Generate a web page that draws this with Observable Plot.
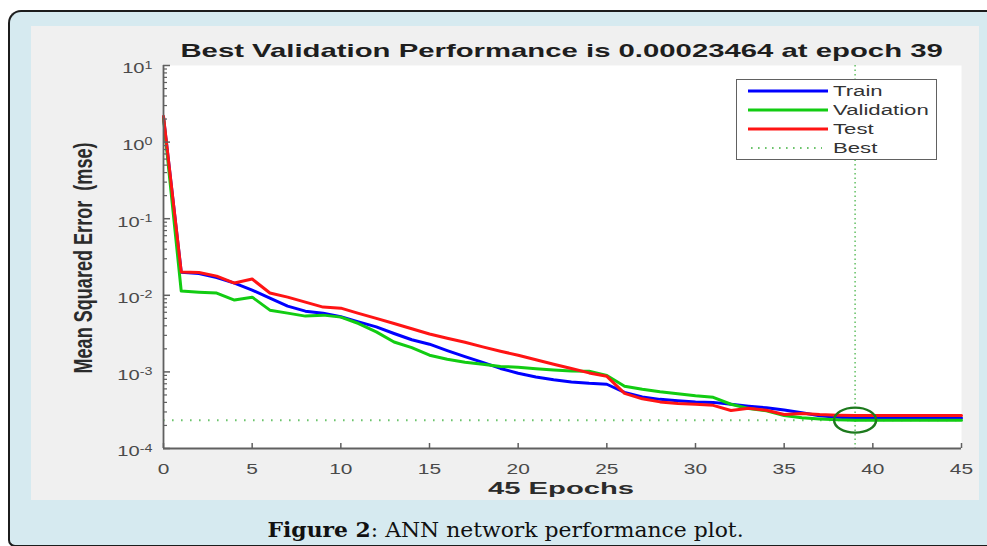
<!DOCTYPE html>
<html>
<head>
<meta charset="utf-8">
<script src="https://cdn.jsdelivr.net/npm/d3@7"></script>
<script src="https://cdn.jsdelivr.net/npm/@observablehq/plot@0.6"></script>
<style>
  html, body { margin: 0; padding: 0; background: #fff; }
  #page { position: relative; width: 987px; height: 546px; overflow: hidden; }
  #outer { position: absolute; left: 8px; top: 10px; width: 1000px; height: 537px; box-sizing: border-box;
           border: 2px solid #1c1c1c; border-right: none; border-radius: 13px 0 0 7px; background: #d6eaf0; }
  #panel { position: absolute; left: 31px; top: 26px; width: 948px; height: 474px; background: #f0f0f0; }
  #panel svg { position: absolute; left: 0; top: 0; }
  .lbl { position: absolute; white-space: nowrap; line-height: 1; transform-origin: 50% 50%; }
</style>
</head>
<body>
<div id="page">
  <div id="outer"></div>
  <div id="panel"></div>
</div>
<script>
// ---------------- data ----------------
const epochs = [0,1,2,3,4,5,6,7,8,9,10,11,12,13,14,15,16,17,18,19,20,21,22,23,24,25,26,27,28,29,30,31,32,33,34,35,36,37,38,39,40,41,42,43,44,45];
const train = [2.12, 0.0200, 0.0192, 0.0171, 0.0144, 0.0117, 0.0092, 0.00722, 0.00621, 0.00585, 0.00524, 0.0045, 0.00387, 0.00317, 0.00263, 0.0023, 0.0019, 0.00158, 0.00133, 0.00111, 0.00096, 0.00086, 0.00079, 0.00074, 0.00071, 0.00069, 0.000541, 0.000472, 0.000438, 0.000421, 0.000404, 0.0004, 0.000378, 0.000357, 0.00034, 0.000318, 0.000292, 0.000268, 0.000256, 0.00025, 0.00025, 0.00025, 0.00025, 0.00025, 0.00025, 0.00025];
const validation = [2.05, 0.01135, 0.0110, 0.0107, 0.00866, 0.00946, 0.0064, 0.00585, 0.00535, 0.00551, 0.00519, 0.00428, 0.00333, 0.00246, 0.00207, 0.00165, 0.00146, 0.00134, 0.00126, 0.00118, 0.00115, 0.0011, 0.00106, 0.00103, 0.00102, 0.0009, 0.000648, 0.000592, 0.000549, 0.000517, 0.000487, 0.000466, 0.000378, 0.000332, 0.00031, 0.00027, 0.000252, 0.000243, 0.000237, 0.00023464, 0.000234, 0.000234, 0.000234, 0.000233, 0.000233, 0.000233];
const test = [2.17, 0.0202, 0.0199, 0.0178, 0.01445, 0.0163, 0.0107, 0.00946, 0.00814, 0.00701, 0.0068, 0.0058, 0.00499, 0.00429, 0.00366, 0.00313, 0.00275, 0.00244, 0.00212, 0.00186, 0.00165, 0.00144, 0.00126, 0.00111, 0.00097, 0.000875, 0.000525, 0.000445, 0.000406, 0.000388, 0.000377, 0.000366, 0.000314, 0.000335, 0.000315, 0.000278, 0.000287, 0.000277, 0.000272, 0.00027, 0.00027, 0.00027, 0.00027, 0.00027, 0.00027, 0.00027];
const bestEpoch = 39;
const bestValue = 0.00023464;
const seriesNames = ["Train", "Validation", "Test", "Best"];
const xTicks = [0, 5, 10, 15, 20, 25, 30, 35, 40, 45];
const yTicks = [1e-4, 1e-3, 1e-2, 1e-1, 1, 10];
const yTickLabels = ["10^-4", "10^-3", "10^-2", "10^-1", "10^0", "10^1"];
const titleText = `Best Validation Performance is ${bestValue} at epoch ${bestEpoch}`;
const xLabelText = `${epochs.length - 1} Epochs`;
const yLabelText = "Mean Squared Error\u00a0 (mse)";
const captionHTML = "<b>Figure 2</b>: ANN network performance plot.";

// ---------------- styles ----------------
const COLORS = {Train: "#0000ff", Validation: "#12cc12", Test: "#ff1414", Best: "#6cc46c"};
const AX = "#606060", TXT = "#4a4a4a";
const FONT = "'Liberation Sans', Arial, Helvetica, sans-serif";

const rowsOf = (vals) => epochs.map((e, i) => ({epoch: e, mse: vals[i]}));
const yMinor = yTicks.slice(0, -1).flatMap(d => [2,3,4,5,6,7,8,9].map(m => d * m));

const ellipse = {
  draw(ctx, size) {
    const r = Math.sqrt(size / Math.PI), rx = r * 1.68, ry = r, k = 0.5523;
    ctx.moveTo(rx, 0);
    ctx.bezierCurveTo(rx, ry * k, rx * k, ry, 0, ry);
    ctx.bezierCurveTo(-rx * k, ry, -rx, ry * k, -rx, 0);
    ctx.bezierCurveTo(-rx, -ry * k, -rx * k, -ry, 0, -ry);
    ctx.bezierCurveTo(rx * k, -ry, rx, -ry * k, rx, 0);
    ctx.closePath();
  }
};

const chart = Plot.plot({
  width: 948, height: 474,
  marginLeft: 132, marginRight: 18, marginTop: 39, marginBottom: 52,
  style: {background: "transparent", fontFamily: FONT, overflow: "visible"},
  x: {domain: [0, 45]},
  y: {type: "log", domain: [1e-4, 10]},
  marks: [
    Plot.frame({fill: "#ffffff", stroke: "none"}),
    Plot.ruleY([bestValue], {stroke: COLORS.Best, strokeWidth: 2, strokeDasharray: "1.6,7.4"}),
    Plot.ruleX([bestEpoch], {stroke: COLORS.Best, strokeWidth: 1.6, strokeDasharray: "1.5,3"}),
    Plot.line(rowsOf(train), {x: "epoch", y: "mse", stroke: COLORS.Train, strokeWidth: 3}),
    Plot.line(rowsOf(validation), {x: "epoch", y: "mse", stroke: COLORS.Validation, strokeWidth: 3}),
    Plot.line(rowsOf(test), {x: "epoch", y: "mse", stroke: COLORS.Test, strokeWidth: 3}),
    Plot.dot([{epoch: bestEpoch, mse: bestValue}], {x: "epoch", y: "mse", r: 12.5, symbol: ellipse, stroke: "#1d7a1d", strokeWidth: 2.4, fill: "none"}),
    Plot.ruleX([0], {stroke: AX, strokeWidth: 1.8}),
    Plot.ruleY([1e-4], {stroke: AX, strokeWidth: 1.8}),
    Plot.axisX(xTicks, {tickSize: 5, dy: -5, tickPadding: 14, fontSize: 15.5, stroke: AX, fill: TXT, strokeWidth: 1.5, label: null}),
    Plot.axisY(yMinor, {tickSize: 4, dx: 4, tickFormat: () => "", stroke: AX, strokeWidth: 1.2, label: null}),
    Plot.axisY(yTicks, {tickSize: 7, dx: 7, tickPadding: 11, tickFormat: d => yTickLabels[yTicks.indexOf(d)], fontSize: 15.5, stroke: AX, fill: TXT, strokeWidth: 1.5, label: null})
  ]
});
document.getElementById("panel").append(chart);

// stretch tick labels horizontally (the reference is a horizontally stretched picture)
const SVGNS = "http://www.w3.org/2000/svg";
chart.querySelectorAll("text").forEach(t => {
  const s = t.textContent;
  if (!s) return;
  let sx = 1.35;
  const m = /^10\^(-?\d+)$/.exec(s);
  if (m) {
    t.textContent = "10";
    const ts = document.createElementNS(SVGNS, "tspan");
    ts.setAttribute("dy", "-0.45em");
    ts.setAttribute("font-size", "11");
    ts.textContent = m[1];
    t.append(ts);
    t.setAttribute("dy", "3");
    sx = 1.3;
  }
  const tr = t.getAttribute("transform");
  if (tr) t.setAttribute("transform", `${tr} scale(${sx},1)`);
  else {
    const x = +t.getAttribute("x") || 0;
    t.setAttribute("transform", `translate(${x},0) scale(${sx},1) translate(${-x},0)`);
  }
});

// ---------------- HTML text ----------------
const page = document.getElementById("page");
function label(html, o) {
  const d = document.createElement("div");
  d.className = "lbl";
  d.innerHTML = html;
  Object.assign(d.style, {fontSize: o.fs + "px", fontWeight: o.weight || "normal", fontFamily: o.family || FONT, color: o.color || "#222"});
  page.append(d);
  const w = d.offsetWidth;
  d.style.left = (o.cx - w / 2) + "px";
  d.style.top = (o.baseline - 0.8465 * o.fs) + "px";
  d.style.transform = `scaleX(${o.target / w})`;
  return d;
}
label(titleText, {cx: 561, baseline: 58, fs: 18.5, weight: "bold", target: 762, color: "#1e1e1e"});
label(xLabelText, {cx: 561, baseline: 495, fs: 16, weight: "bold", target: 146, color: "#2b2b2b"});
label(captionHTML, {cx: 505, baseline: 536.5, fs: 21, target: 476, family: "'DejaVu Serif', serif", color: "#111"});

// rotated y label
(() => {
  const fs = 18;
  const d = document.createElement("div");
  d.className = "lbl";
  d.textContent = yLabelText;
  Object.assign(d.style, {fontSize: fs + "px", fontWeight: "bold", fontFamily: FONT, color: "#2b2b2b"});
  page.append(d);
  const w = d.offsetWidth, h = d.offsetHeight;
  d.style.left = (82.5 - w / 2) + "px";
  d.style.top = (257.5 - h / 2) + "px";
  d.style.transform = `scale(${19 / (0.716 * fs)},${231 / w}) rotate(-90deg)`;
})();

// legend box (inside the axes, top right)
(() => {
  const lg = document.createElement("div");
  Object.assign(lg.style, {position: "absolute", left: "736px", top: "79px", width: "201px", height: "81px",
    boxSizing: "border-box", background: "#fff", border: "1.5px solid #616161"});
  page.append(lg);
  const spans = [];
  seriesNames.forEach((name, i) => {
    const yc = 91.8 + i * 18.9 - 80.5;
    const sw = document.createElementNS(SVGNS, "svg");
    sw.setAttribute("width", 82); sw.setAttribute("height", 8);
    Object.assign(sw.style, {position: "absolute", left: "10.5px", top: (yc - 4) + "px"});
    const ln = document.createElementNS(SVGNS, "line");
    ln.setAttribute("x1", name === "Best" ? 3 : 0); ln.setAttribute("x2", name === "Best" ? 74 : 80);
    ln.setAttribute("y1", 4); ln.setAttribute("y2", 4);
    ln.setAttribute("stroke", COLORS[name]);
    ln.setAttribute("stroke-width", name === "Best" ? 1.8 : 3);
    if (name === "Best") ln.setAttribute("stroke-dasharray", "1.6,5.4");
    sw.append(ln);
    lg.append(sw);
    const sp = document.createElement("div");
    sp.textContent = name;
    Object.assign(sp.style, {position: "absolute", left: "95.5px", top: (yc - 0.488 * 14) + "px", fontSize: "14px",
      lineHeight: 1, fontFamily: FONT, color: "#333", whiteSpace: "nowrap", transformOrigin: "0 50%"});
    lg.append(sp);
    spans.push(sp);
  });
  const sx = 95 / spans[1].offsetWidth;
  spans.forEach(sp => sp.style.transform = `scaleX(${sx})`);
})();
</script>
</body>
</html>
